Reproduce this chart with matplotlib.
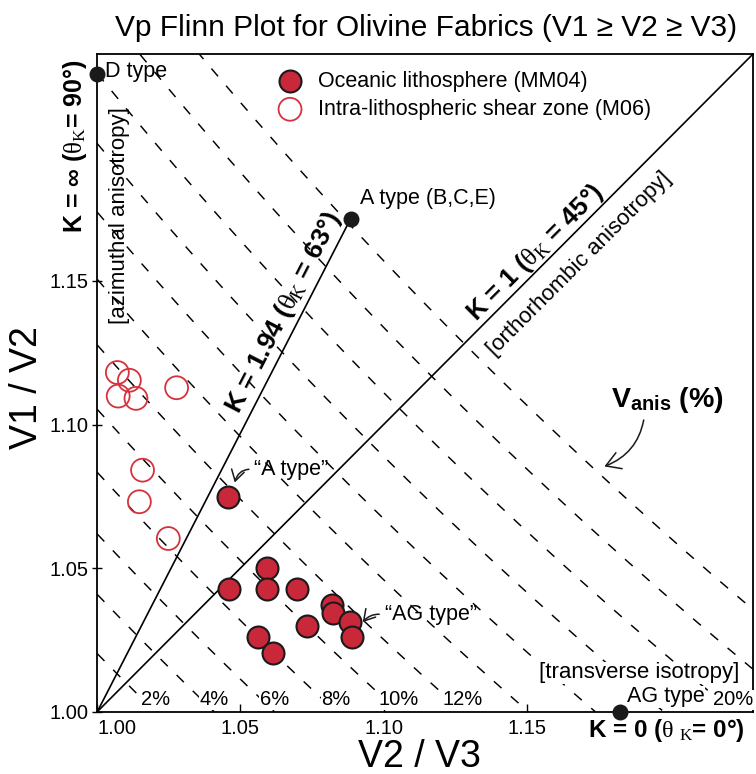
import matplotlib
matplotlib.use("Agg")
import matplotlib.pyplot as plt
import numpy as np

plt.rcParams['font.family'] = ['Liberation Sans', 'DejaVu Sans']
plt.rcParams['mathtext.fontset'] = 'custom'
plt.rcParams['mathtext.rm'] = 'Liberation Serif'
plt.rcParams['mathtext.it'] = 'Liberation Serif:italic'
plt.rcParams['mathtext.bf'] = 'Liberation Sans:bold'

# Oceanic lithosphere (MM04): V2/V3, V1/V2
ocean_x = [1.0455, 1.0461, 1.0591, 1.0591, 1.0696, 1.0820, 1.0823,
           1.0884, 1.0891, 1.0731, 1.0562, 1.0612]
ocean_y = [1.0747, 1.0428, 1.0500, 1.0428, 1.0428, 1.0370, 1.0343,
           1.0311, 1.0260, 1.0297, 1.0260, 1.0204]

# Intra-lithospheric shear zone (M06)
shear_x = [1.0070, 1.0112, 1.0073, 1.0135, 1.0277, 1.0158, 1.0147, 1.0248]
shear_y = [1.1181, 1.1154, 1.1099, 1.1091, 1.1128, 1.0841, 1.0731, 1.0603]

# end-member fabrics
end_names = ['D type', 'A type (B,C,E)', 'AG type']
end_x = [1.0, 1.0885, 1.1824]
end_y = [1.2222, 1.1717, 1.0]

# Vanis contours (%)
vanis_levels = [2, 4, 6, 8, 10, 12, 14, 16, 18, 20, 22, 24]
vanis_labelled = [2, 4, 6, 8, 10, 12, 20]

k_a = 1.94   # K of the A-type trend
LIM = 1.229

fig = plt.figure(figsize=(7.56, 7.74), dpi=100)
ax = fig.add_axes([0.1287, 0.0805, 0.8673, 0.8497])
ax.set_xlim(1.0, LIM)
ax.set_ylim(1.0, LIM)

# constant anisotropy: V1/V3 = (V2/V3)*(V1/V2) = r
for v in vanis_levels:
    r = (1 + v / 200.0) / (1 - v / 200.0)
    xx = np.linspace(1.0, r, 300)
    ax.plot(xx, r / xx, color='black', lw=1.05, ls=(0, (7, 8.5)), zorder=1)
    if v in vanis_labelled:
        ax.text(r, 1.0041, f'{v}%', ha='center', va='center', fontsize=14.5,
                zorder=3, bbox=dict(facecolor='white', edgecolor='none', pad=0.3))

# K lines
ax.plot([1.0, LIM], [1.0, LIM], color='black', lw=1.2, zorder=2)
ax.plot([1.0, end_x[1]], [1.0, 1.0 + k_a * (end_x[1] - 1.0)], color='black', lw=1.2, zorder=2)

sc_ocean = ax.scatter(ocean_x, ocean_y, s=250, facecolor='#c8283a', edgecolor='#1a1a1a',
                      lw=1.5, zorder=4, label='Oceanic lithosphere (MM04)')
sc_shear = ax.scatter(shear_x, shear_y, s=272, facecolor='none', edgecolor='#d6323c',
                      lw=1.3, zorder=4, label='Intra-lithospheric shear zone (M06)')
ax.scatter(end_x, end_y, s=110, color='#1a1a1a', zorder=6, clip_on=False)

ax.legend(handles=[sc_ocean, sc_shear], loc='upper left', bbox_to_anchor=(0.2775, 0.9748),
          frameon=False, fontsize=15.5, handlelength=1.0, handletextpad=0.8,
          labelspacing=0.34, borderpad=0, borderaxespad=0, scatterpoints=1)

# end-member labels
ax.text(1.0027, 1.2228, end_names[0], ha='left', va='center', fontsize=15.5)
ax.text(1.0916, 1.1786, end_names[1], ha='left', va='center', fontsize=15.5)
ax.text(1.1851, 1.0052, end_names[2], ha='left', va='center', fontsize=15.5, zorder=3,
        bbox=dict(facecolor='white', edgecolor='none', pad=0.3))

ax.text(1.1894, 1.0135, '[transverse isotropy]', ha='center', va='center', fontsize=16,
        zorder=3, bbox=dict(facecolor='white', edgecolor='none', pad=0.3))
ax.text(1.0079, 1.1726, '[azimuthal anisotropy]', rotation=90, ha='center', va='center',
        fontsize=16, zorder=3)
ax.text(1.1684, 1.1559, '[orthorhombic anisotropy]', rotation=45, rotation_mode='anchor',
        ha='center', va='center', fontsize=16, zorder=3)

ax.text(1.0652, 1.1390, r'K = 1.94 ($\mathrm{\theta_K}$ = 63°)', rotation=62.7,
        rotation_mode='anchor', ha='center', va='center', fontsize=19,
        fontweight='bold', zorder=3)
ax.text(1.1530, 1.1598, r'K = 1 ($\mathrm{\theta_K}$ = 45°)', rotation=45,
        rotation_mode='anchor', ha='center', va='center', fontsize=18.5,
        fontweight='bold', zorder=3)
ax.text(0.9922, 1.197, r'K = ∞ ($\mathrm{\theta_K}$= 90°)', rotation=90, ha='center',
        va='center', fontsize=18, fontweight='bold', clip_on=False)
ax.text(1.1987, 0.9936, r'K = 0 ($\mathrm{\theta\ _K}$= 0°)', ha='center', va='center',
        fontsize=17.5, fontweight='bold', clip_on=False)

arrow = dict(arrowstyle='->,head_length=0.5,head_width=0.3', lw=1.1, color='#1a1a1a',
             shrinkA=2, shrinkB=0)
ax.annotate('“A type”', xy=(1.048, 1.0798), xytext=(1.0549, 1.0843), ha='left',
            va='center', fontsize=15.5,
            arrowprops=dict(arrow, connectionstyle='arc3,rad=0.45', relpos=(0, 0.5)))
ax.annotate('“AG type”', xy=(1.0927, 1.0312), xytext=(1.1004, 1.0337), ha='left',
            va='center', fontsize=15.5,
            arrowprops=dict(arrow, connectionstyle='arc3,rad=0.3', relpos=(0, 0.5)))
ax.annotate(r'V$_{\mathbf{anis}}$ (%)', xy=(1.1771, 1.0854), xytext=(1.1990, 1.1087),
            ha='center', va='center', fontsize=20.5, fontweight='bold',
            arrowprops=dict(arrow, connectionstyle='arc3,rad=-0.3', relpos=(0.3, 0)))

ticks = [1.00, 1.05, 1.10, 1.15]
ax.set_xticks(ticks)
ax.set_yticks(ticks)
ax.set_xticklabels([f'{t:.2f}' for t in ticks])
ax.set_yticklabels([f'{t:.2f}' for t in ticks])
ax.get_xticklabels()[0].set_ha('left')
ax.tick_params(axis='x', direction='in', length=6, width=1, pad=5, labelsize=14.5)
ax.tick_params(axis='y', direction='inout', length=7, width=1, pad=3, labelsize=14.5)
for sp in ax.spines.values():
    sp.set_linewidth(1.3)

ax.set_xlabel('V2 / V3', fontsize=27, va='center')
ax.set_ylabel('V1 / V2', fontsize=27, va='center')
ax.xaxis.set_label_coords(0.4906, -0.0689)
ax.yaxis.set_label_coords(-0.1072, 0.4922)

fig.text(0.5635, 0.964, 'Vp Flinn Plot for Olivine Fabrics (V1 ≥ V2 ≥ V3)', ha='center',
         va='center', fontsize=21.5)

fig.savefig('out.png', dpi=100)
